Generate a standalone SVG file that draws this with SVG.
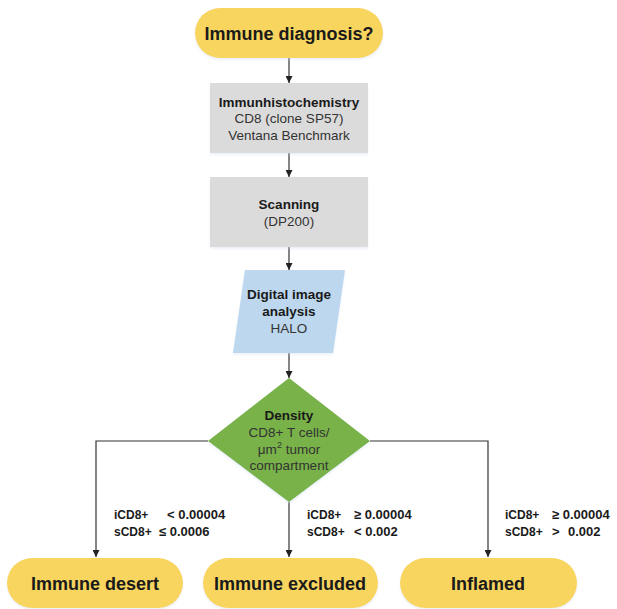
<svg xmlns="http://www.w3.org/2000/svg" width="617" height="609" viewBox="0 0 617 609">
<style>
text{font-family:"Liberation Sans",Arial,sans-serif;fill:#1a1a1a}
.t{font-size:18px;font-weight:bold;text-anchor:middle}
.b{font-size:13.5px;font-weight:bold;text-anchor:middle}
.r{font-size:13.5px;text-anchor:middle;fill:#333}
.l{font-size:13px;font-weight:bold}
.n{font-size:12px;font-weight:bold}
.pill{fill:#F8D55F}
.box{fill:#DBDBDB}
.ln{fill:none;stroke:#333;stroke-width:1.2}
</style>
<defs>
<marker id="ah" viewBox="0 0 8 8" refX="8" refY="4" markerWidth="7" markerHeight="7" markerUnits="userSpaceOnUse" orient="auto">
<path d="M0,0 L8,4 L0,8 Z" fill="#222"/>
</marker>
<filter id="sh" x="-10%" y="-10%" width="120%" height="130%">
<feGaussianBlur in="SourceAlpha" stdDeviation="1.2"/>
<feOffset dx="0" dy="1.5" result="o"/>
<feColorMatrix in="o" type="matrix" values="0 0 0 0 0.6  0 0 0 0 0.7  0 0 0 0 0.85  0 0 0 0.35 0"/>
<feMerge><feMergeNode/><feMergeNode in="SourceGraphic"/></feMerge>
</filter>
</defs>
<g id="connectors">
<line class="ln" x1="289" y1="58" x2="289" y2="83" marker-end="url(#ah)"/>
<line class="ln" x1="289" y1="153" x2="289" y2="177" marker-end="url(#ah)"/>
<line class="ln" x1="289" y1="247" x2="289" y2="270" marker-end="url(#ah)"/>
<line class="ln" x1="289" y1="353" x2="289" y2="378" marker-end="url(#ah)"/>
<polyline class="ln" points="208,441 96,441 96,557" marker-end="url(#ah)"/>
<line class="ln" x1="289" y1="502" x2="289" y2="557" marker-end="url(#ah)"/>
<polyline class="ln" points="370,441 488,441 488,557" marker-end="url(#ah)"/>
</g>
<g id="start">
<rect class="pill" x="195" y="8" width="188" height="50" rx="25" filter="url(#sh)"/>
<text class="t" x="289" y="39.5">Immune diagnosis?</text>
</g>
<g id="ihc">
<rect class="box" x="210" y="83" width="158" height="70" filter="url(#sh)"/>
<text class="b" x="289" y="107">Immunhistochemistry</text>
<text class="r" x="289" y="123">CD8 (clone SP57)</text>
<text class="r" x="289" y="139.5">Ventana Benchmark</text>
</g>
<g id="scan">
<rect class="box" x="210" y="177" width="158" height="70" filter="url(#sh)"/>
<text class="b" x="289" y="209">Scanning</text>
<text class="r" x="289" y="225.5">(DP200)</text>
</g>
<g id="halo">
<polygon points="245,270 345,270 333,353 233,353" fill="#BDD7EE" filter="url(#sh)"/>
<text class="b" x="289" y="299">Digital image</text>
<text class="b" x="289" y="316">analysis</text>
<text class="r" x="289" y="333">HALO</text>
</g>
<g id="density">
<polygon points="289,378 370,441 289,502 208,441" fill="#78B24A" filter="url(#sh)"/>
<text class="b" x="289" y="420">Density</text>
<text class="r" x="289" y="437">CD8+ T cells/</text>
<text class="r" x="289" y="454">μm<tspan font-size="9" dy="-6">2</tspan><tspan dy="6"> tumor</tspan></text>
<text class="r" x="289" y="470">compartment</text>
</g>
<g id="labels">
<text class="n" x="114" y="519">iCD8+</text>
<text class="l" x="167" y="519">&lt; 0.00004</text>
<text class="n" x="114" y="536">sCD8+</text>
<text class="l" x="159" y="536">≤ 0.0006</text>
<text class="n" x="307" y="519">iCD8+</text>
<text class="l" x="354" y="519">≥ 0.00004</text>
<text class="n" x="307" y="536">sCD8+</text>
<text class="l" x="354" y="536">&lt; 0.002</text>
<text class="n" x="505" y="519">iCD8+</text>
<text class="l" x="552" y="519">≥ 0.00004</text>
<text class="n" x="505" y="536">sCD8+</text>
<text class="l" x="552" y="536">&gt;</text>
<text class="l" x="568" y="536">0.002</text>
</g>
<g id="desert">
<rect class="pill" x="7" y="558" width="176" height="50" rx="25" filter="url(#sh)"/>
<text class="t" x="95" y="589.5">Immune desert</text>
</g>
<g id="excluded">
<rect class="pill" x="203" y="558" width="175" height="50" rx="25" filter="url(#sh)"/>
<text class="t" x="290" y="589.5">Immune excluded</text>
</g>
<g id="inflamed">
<rect class="pill" x="400" y="558" width="177" height="50" rx="25" filter="url(#sh)"/>
<text class="t" x="488" y="589.5">Inflamed</text>
</g>
</svg>
